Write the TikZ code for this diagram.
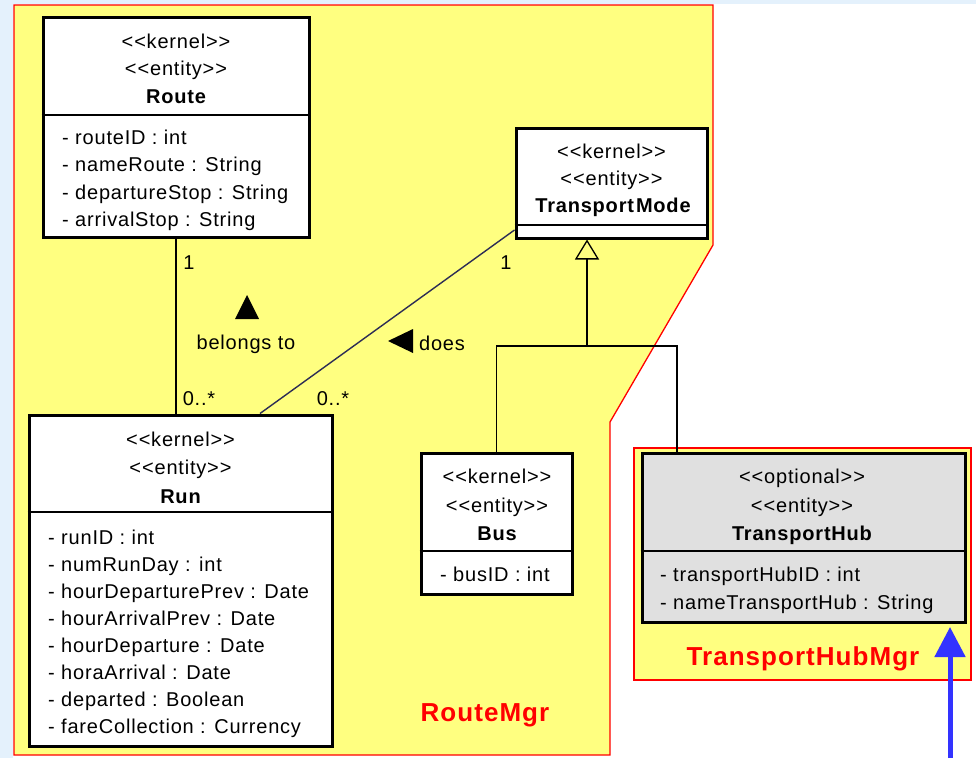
\documentclass[tikz,border=0pt]{standalone}
\usepackage{fontspec}
\setmainfont{Liberation Sans}
\newfontfamily\umlfont{Liberation Sans}[LetterSpace=4]
\usetikzlibrary{arrows.meta}
\definecolor{pkgyellow}{RGB}{255,255,128}
\definecolor{bgblue}{RGB}{228,241,252}
\definecolor{hubgray}{RGB}{224,224,224}
\definecolor{arrowblue}{RGB}{51,51,255}
\definecolor{linkgray}{RGB}{45,45,85}
\newcommand{\stereo}[1]{<\kern1pt<#1>\kern1pt>}
\begin{document}
\begin{tikzpicture}[x=1pt,y=-1pt,
  classbox/.style={draw=black, line width=3pt, fill=white, inner sep=0pt},
  sepline/.style={line width=1.3pt},
  conn/.style={line width=1.3pt, black},
  pkg/.style={draw=red, line width=1.3pt, fill=pkgyellow},
  txt/.style={inner sep=0pt, text height=15pt, text depth=1pt, font=\umlfont\fontsize{20}{24}\selectfont},
  bold/.style={txt, font=\umlfont\fontsize{20}{24}\selectfont\bfseries},
  pkglabel/.style={inner sep=0pt, text=red, font=\umlfont\fontsize{26}{30}\selectfont\bfseries}
]
\useasboundingbox (0,0) rectangle (976,758);
% background
\fill[white] (0,0) rectangle (976,758);
\fill[bgblue] (0,0) rectangle (13,758);
\fill[bgblue] (0,0) rectangle (976,4);
% packages
\draw[pkg] (14,5) -- (713,5) -- (713,245) -- (610,422) -- (610,755) -- (14,755) -- cycle;
\draw[pkg] (634,448) rectangle (971,680);
% classes
\node[classbox, minimum width=266pt, minimum height=220pt] (route) at (176,127) {};
\node[classbox, minimum width=303pt, minimum height=331pt] (run) at (180.5,580.5) {};
\node[classbox, minimum width=191pt, minimum height=110pt] (tmode) at (611.5,183) {};
\node[classbox, minimum width=151pt, minimum height=141pt] (bus) at (496.5,523.5) {};
\node[classbox, fill=hubgray, minimum width=323pt, minimum height=169pt] (hub) at (803.5,537.5) {};
% separators
\draw[sepline] (route.west |- 0,115) -- (route.east |- 0,115);
\draw[sepline] (run.west |- 0,512) -- (run.east |- 0,512);
\draw[sepline] (tmode.west |- 0,225) -- (tmode.east |- 0,225);
\draw[sepline] (bus.west |- 0,551) -- (bus.east |- 0,551);
\draw[sepline] (hub.west |- 0,551) -- (hub.east |- 0,551);
% connectors
\draw[conn] (route.south) -- (route.south |- run.north);
\draw[line width=1.4pt, linkgray] ([xshift=79.5pt]run.north) -- ([yshift=-47pt]tmode.west);
\coordinate (genJ) at (587,346);
\coordinate (hubIn) at ([xshift=-126.5pt]hub.north);
\draw[conn] (bus.north) |- (genJ) -| (hubIn);
\draw[conn, -{Triangle[open, length=20pt, width=24pt, line width=1.3pt]}] (genJ) -- (genJ |- tmode.south);
% blue arrow
\coordinate (blueStart) at (950,758);
\coordinate (blueEnd) at (950,627);
\draw[arrowblue, line width=5pt, -{Triangle[length=30pt, width=30pt]}] (blueStart) -- (blueEnd);
% Route text
\node[txt] (routeS1) at (176,41) {\stereo{kernel}};
\node[txt] (routeS2) at (176,68) {\stereo{entity}};
\node[bold] (routeN) at (176,96) {Route};
\node[txt, anchor=west] (routeA1) at (62,137) {- routeID : int};
\node[txt, anchor=west] (routeA2) at (62,164) {- nameRoute : String};
\node[txt, anchor=west] (routeA3) at (62,192) {- departureStop : String};
\node[txt, anchor=west] (routeA4) at (62,219) {- arrivalStop : String};
% Run text
\node[txt] (runS1) at (180.5,439) {\stereo{kernel}};
\node[txt] (runS2) at (180.5,467) {\stereo{entity}};
\node[bold] (runN) at (180.5,496) {Run};
\node[txt, anchor=west] (runA1) at (48,537) {- runID : int};
\node[txt, anchor=west] (runA2) at (48,564) {- numRunDay : int};
\node[txt, anchor=west] (runA3) at (48,591) {- hourDeparturePrev : Date};
\node[txt, anchor=west] (runA4) at (48,618) {- hourArrivalPrev : Date};
\node[txt, anchor=west] (runA5) at (48,645) {- hourDeparture : Date};
\node[txt, anchor=west] (runA6) at (48,672) {- horaArrival : Date};
\node[txt, anchor=west] (runA7) at (48,699) {- departed : Boolean};
\node[txt, anchor=west] (runA8) at (48,726) {- fareCollection : Currency};
% TransportMode text
\node[txt] (tmS1) at (611.5,151) {\stereo{kernel}};
\node[txt] (tmS2) at (611.5,178) {\stereo{entity}};
\node[bold] (tmN) at (613,205) {Transport\kern2pt Mode};
% Bus text
\node[txt] (busS1) at (497,476) {\stereo{kernel}};
\node[txt] (busS2) at (497,505) {\stereo{entity}};
\node[bold] (busN) at (497,533) {Bus};
\node[txt, anchor=west] (busA1) at (440,574) {- busID : int};
% Hub text
\node[txt] (hubS1) at (802,476) {\stereo{optional}};
\node[txt] (hubS2) at (802,505) {\stereo{entity}};
\node[bold] (hubN) at (802,533) {TransportHub};
\node[txt, anchor=west] (hubA1) at (660,574) {- transportHubID : int};
\node[txt, anchor=west] (hubA2) at (660,602) {- nameTransportHub : String};
% association labels
\node[txt] (m1) at (189,262) {1};
\node[txt] (m2) at (199,398) {0..*};
\node[txt] (m3) at (506,262) {1};
\node[txt] (m4) at (333,398) {0..*};
\fill (247,295) -- (259,319) -- (235,319) -- cycle;
\node[txt] (belongs) at (246,342) {belongs to};
\fill (388,341) -- (413,329) -- (413,353) -- cycle;
\node[txt] (does) at (442,343) {does};
% package labels
\node[pkglabel] (routeMgr) at (485,715) {RouteMgr};
\node[pkglabel] (hubMgr) at (803,659) {TransportHubMgr};
\end{tikzpicture}
\end{document}
